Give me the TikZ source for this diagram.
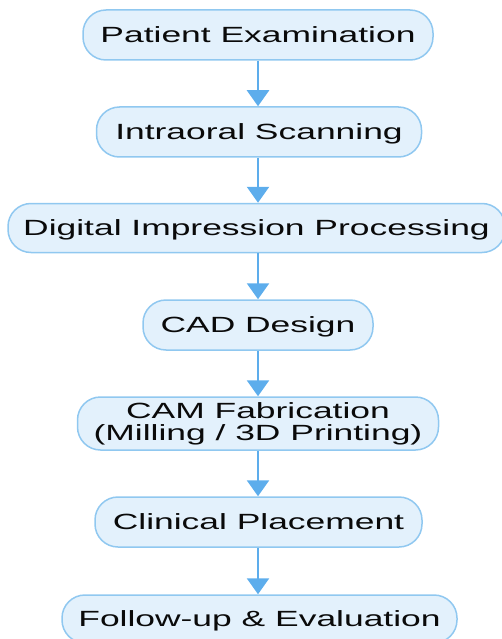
\documentclass[tikz,border=0pt]{standalone}
\usepackage{fontspec}
\newfontfamily\boxfont[FakeStretch=1.61]{Liberation Sans}
\usetikzlibrary{arrows.meta}
\definecolor{boxfill}{HTML}{E3F1FC}
\definecolor{boxline}{HTML}{90C8F0}
\definecolor{arrowcol}{HTML}{5DADEC}
\definecolor{txtcol}{HTML}{0A0A0A}
\begin{document}
\begin{tikzpicture}[x=1pt,y=-1pt,
  stepbox/.style={draw=boxline, fill=boxfill, line width=1.5pt, rounded corners=23pt,
    inner sep=0pt, align=center, text=txtcol,
    font=\boxfont\fontsize{22}{22}\selectfont},
  onel/.style={text height=15pt, text depth=0pt},
  flow/.style={draw=arrowcol, line width=2.5pt, -{Triangle[width=22pt,length=16pt]}}]
\useasboundingbox (0,0) rectangle (501,639);
\node[stepbox, onel, minimum width=350pt, minimum height=50pt] (n1) at (258,35) {Patient Examination};
\node[stepbox, onel, minimum width=325pt, minimum height=50pt] (n2) at (259,132) {Intraoral Scanning};
\node[stepbox, onel, minimum width=497pt, minimum height=49pt] (n3) at (256.5,228) {Digital Impression Processing};
\node[stepbox, onel, minimum width=230pt, minimum height=50pt] (n4) at (258,325) {CAD Design};
\node[stepbox, minimum width=361pt, minimum height=53pt] (n5) at (258,423.5) {CAM Fabrication\\(Milling / 3D Printing)};
\node[stepbox, onel, minimum width=327pt, minimum height=50pt] (n6) at (258.5,522) {Clinical Placement};
\node[stepbox, onel, minimum width=395pt, minimum height=48pt] (n7) at (259.5,619) {Follow-up \& Evaluation};
\draw[flow] (n1.south -| 258,0) -- (n2.north -| 258,0);
\draw[flow] (n2.south -| 258,0) -- (n3.north -| 258,0);
\draw[flow] (n3.south -| 258,0) -- (n4.north -| 258,0);
\draw[flow] (n4.south -| 258,0) -- (n5.north -| 258,0);
\draw[flow] (n5.south -| 258,0) -- (n6.north -| 258,0);
\draw[flow] (n6.south -| 258,0) -- (n7.north -| 258,0);
\end{tikzpicture}
\end{document}
